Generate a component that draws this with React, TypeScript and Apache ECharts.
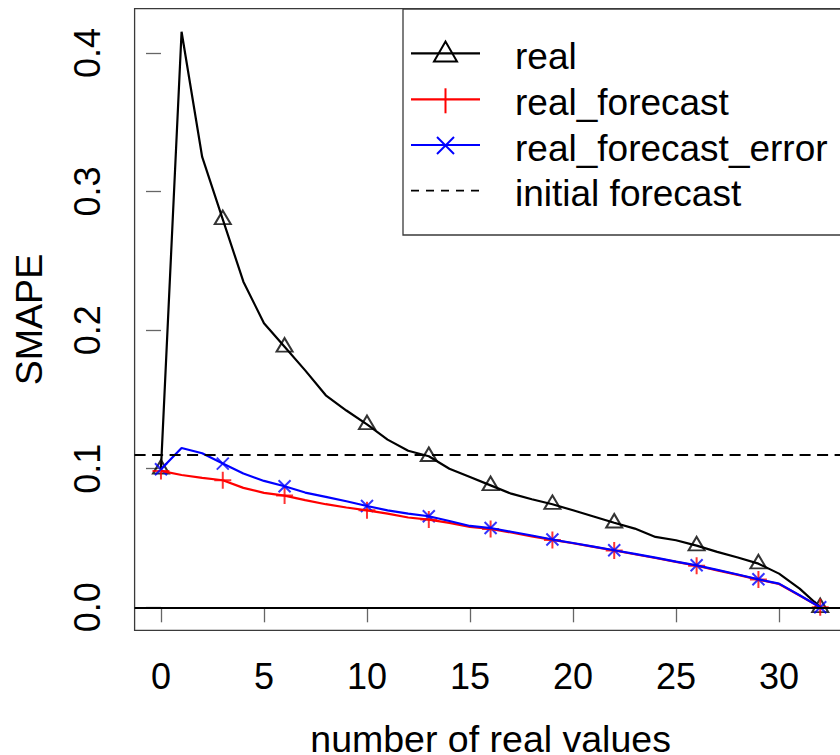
import React, { useEffect, useRef } from "react";
import * as echarts from "echarts";

// number of real values fed into the forecast
const steps = [
  0, 1, 2, 3, 4, 5, 6, 7, 8, 9, 10, 11, 12, 13, 14, 15, 16,
  17, 18, 19, 20, 21, 22, 23, 24, 25, 26, 27, 28, 29, 30, 31, 32,
];

// SMAPE per step
const real = [
  0.1, 0.4154, 0.325, 0.28, 0.235, 0.205, 0.188, 0.171, 0.153, 0.142, 0.132,
  0.121, 0.113, 0.109, 0.1, 0.094, 0.088, 0.082, 0.078, 0.0744, 0.07, 0.0655,
  0.061, 0.0568, 0.0508, 0.0484, 0.0445, 0.04, 0.0359, 0.0315, 0.0243, 0.0135, 0.0,
];
const realForecast = [
  0.0984, 0.0955, 0.0934, 0.0917, 0.0862, 0.0826, 0.0806, 0.0773, 0.0744, 0.072,
  0.07, 0.0676, 0.0648, 0.0633, 0.0609, 0.058, 0.0565, 0.054, 0.0512, 0.0486,
  0.0462, 0.0436, 0.041, 0.0383, 0.0356, 0.0328, 0.03, 0.0267, 0.0234, 0.02,
  0.0168, 0.0085, 0.0,
];
const realForecastError = [
  0.0996, 0.115, 0.1112, 0.1037, 0.0965, 0.0912, 0.0874, 0.0828, 0.0797, 0.0765,
  0.0731, 0.07, 0.0676, 0.0657, 0.0623, 0.0587, 0.0572, 0.0545, 0.0518, 0.0489,
  0.0464, 0.0438, 0.0412, 0.0385, 0.0358, 0.033, 0.0303, 0.027, 0.0237, 0.0202,
  0.0171, 0.0087, 0.0,
];

// steps that carry a point symbol
const markerSteps = [0, 3, 6, 10, 13, 16, 19, 22, 26, 29, 32];

const initialForecast = 0.1055;

const xTicks = [0, 5, 10, 15, 20, 25, 30];
const yTicks = [0, 0.1, 0.2, 0.3, 0.4];

const legendLabels = ["real", "real_forecast", "real_forecast_error", "initial forecast"];

const FONT = '"Liberation Sans", Arial, Helvetica, sans-serif';
const PLUS = "path://M0,5L10,5M5,0L5,10";
const CROSS = "path://M0,0L10,10M0,10L10,0";

const pairs = (vals: number[]) => steps.map((s, i) => [s, vals[i]]);
const marks = (vals: number[]) =>
  markerSteps.map((s) => [s, vals[steps.indexOf(s)]]);

function buildLegend() {
  const left = 403;
  const top = 9;
  const rows = [53.3, 99.3, 145, 190.7];
  const x1 = 411;
  const x2 = 480;
  const cx = 445.5;
  const textX = 515;
  const els: any[] = [
    {
      type: "rect",
      shape: { x: left, y: top, width: 470, height: 226 },
      style: { fill: "#fff", stroke: "#3a3a3a", lineWidth: 1.3 },
    },
  ];
  const colors = ["#000", "#ff0000", "#0000ff", "#000"];
  rows.forEach((ry, i) => {
    els.push({
      type: "line",
      shape: { x1, y1: ry, x2, y2: ry },
      style: {
        stroke: colors[i],
        lineWidth: i === 3 ? 1.8 : 2.2,
        lineDash: i === 3 ? [8, 7] : null,
      },
    });
    if (i === 0) {
      els.push({
        type: "polygon",
        shape: { points: [[cx, ry - 11.7], [cx + 11.5, ry + 8.3], [cx - 11.5, ry + 8.3]] },
        style: { fill: "none", stroke: "#000", lineWidth: 2 },
      });
    } else if (i === 1) {
      els.push({
        type: "line",
        shape: { x1: cx, y1: ry - 11, x2: cx, y2: ry + 14 },
        style: { stroke: "#ff0000", lineWidth: 2 },
      });
    } else if (i === 2) {
      els.push({
        type: "polyline",
        shape: { points: [[cx - 8.5, ry - 8], [cx + 8.5, ry + 9]] },
        style: { stroke: "#0000ff", lineWidth: 2, fill: "none" },
      });
      els.push({
        type: "polyline",
        shape: { points: [[cx - 8.5, ry + 9], [cx + 8.5, ry - 8]] },
        style: { stroke: "#0000ff", lineWidth: 2, fill: "none" },
      });
    }
    els.push({
      type: "text",
      x: textX,
      y: ry + 3,
      style: {
        text: legendLabels[i],
        fontSize: 37,
        fontFamily: FONT,
        fill: "#000",
        verticalAlign: "middle",
        align: "left",
      },
    });
  });
  return els;
}

export default function App() {
  const ref = useRef<HTMLDivElement>(null);

  useEffect(() => {
    if (!ref.current) return;
    const chart = echarts.init(ref.current, null, { renderer: "svg" });

    const tickText = { fontSize: 36, fontFamily: FONT, color: "#000" };
    const titleText = { fontSize: 37.5, fontFamily: FONT, color: "#000" };

    chart.setOption({
      animation: false,
      backgroundColor: "#fff",
      grid: {
        left: 134.6,
        right: -6.6,
        top: 8.7,
        bottom: 124.7,
        containLabel: false,
        outerBoundsMode: "none",
        show: true,
        borderColor: "#3a3a3a",
        borderWidth: 1.3,
        backgroundColor: "transparent",
      },
      xAxis: {
        type: "value",
        min: -1.28,
        max: 33.28,
        axisLine: { show: false },
        splitLine: { show: false },
        axisTick: {
          show: true,
          length: 15,
          customValues: xTicks,
          lineStyle: { color: "#666", width: 1.3 },
        },
        axisLabel: { ...tickText, customValues: xTicks, margin: 28 },
        name: "number of real values",
        nameLocation: "middle",
        nameGap: 90,
        nameTextStyle: titleText,
      },
      yAxis: {
        type: "value",
        min: -0.0166,
        max: 0.432,
        axisLine: { show: false },
        splitLine: { show: false },
        axisTick: {
          show: true,
          length: 15,
          customValues: yTicks,
          lineStyle: { color: "#666", width: 1.3 },
        },
        axisLabel: {
          ...tickText,
          customValues: yTicks,
          rotate: 90,
          margin: 29,
          formatter: (v: number) => v.toFixed(1),
        },
        name: "SMAPE",
        nameLocation: "middle",
        nameGap: 87,
        nameTextStyle: titleText,
      },
      graphic: buildLegend(),
      series: [
        {
          name: "real",
          type: "line",
          data: pairs(real),
          symbol: "none",
          lineStyle: { color: "#000", width: 2.2 },
          silent: true,
          markLine: {
            silent: true,
            symbol: ["none", "none"],
            label: { show: false },
            data: [
              { yAxis: initialForecast, lineStyle: { type: [11, 6.5], color: "#000", width: 2 } },
              { yAxis: 0, lineStyle: { type: "solid", color: "#000", width: 2 } },
            ],
          },
        },
        {
          name: "real points",
          type: "scatter",
          data: marks(real),
          symbol: "triangle",
          symbolSize: [16, 13.5],
          symbolOffset: [0, -2],
          itemStyle: { color: "rgba(0,0,0,0)", borderColor: "#000", borderWidth: 2 },
          silent: true,
        },
        {
          name: "real_forecast",
          type: "line",
          data: pairs(realForecast),
          symbol: "none",
          lineStyle: { color: "#ff0000", width: 2.2 },
          silent: true,
        },
        {
          name: "real_forecast points",
          type: "scatter",
          data: marks(realForecast),
          symbol: PLUS,
          symbolSize: 17,
          itemStyle: { color: "#ff0000", borderColor: "#ff0000", borderWidth: 2 },
          silent: true,
        },
        {
          name: "real_forecast_error",
          type: "line",
          data: pairs(realForecastError),
          symbol: "none",
          lineStyle: { color: "#0000ff", width: 2.2 },
          silent: true,
        },
        {
          name: "real_forecast_error points",
          type: "scatter",
          data: marks(realForecastError),
          symbol: CROSS,
          symbolSize: 12,
          itemStyle: { color: "#0000ff", borderColor: "#0000ff", borderWidth: 2 },
          silent: true,
        },
      ],
    });

    return () => chart.dispose();
  }, []);

  return (
    <div
      ref={ref}
      style={{ position: "absolute", left: 0, top: 0, width: 840, height: 755, background: "#fff" }}
    />
  );
}
